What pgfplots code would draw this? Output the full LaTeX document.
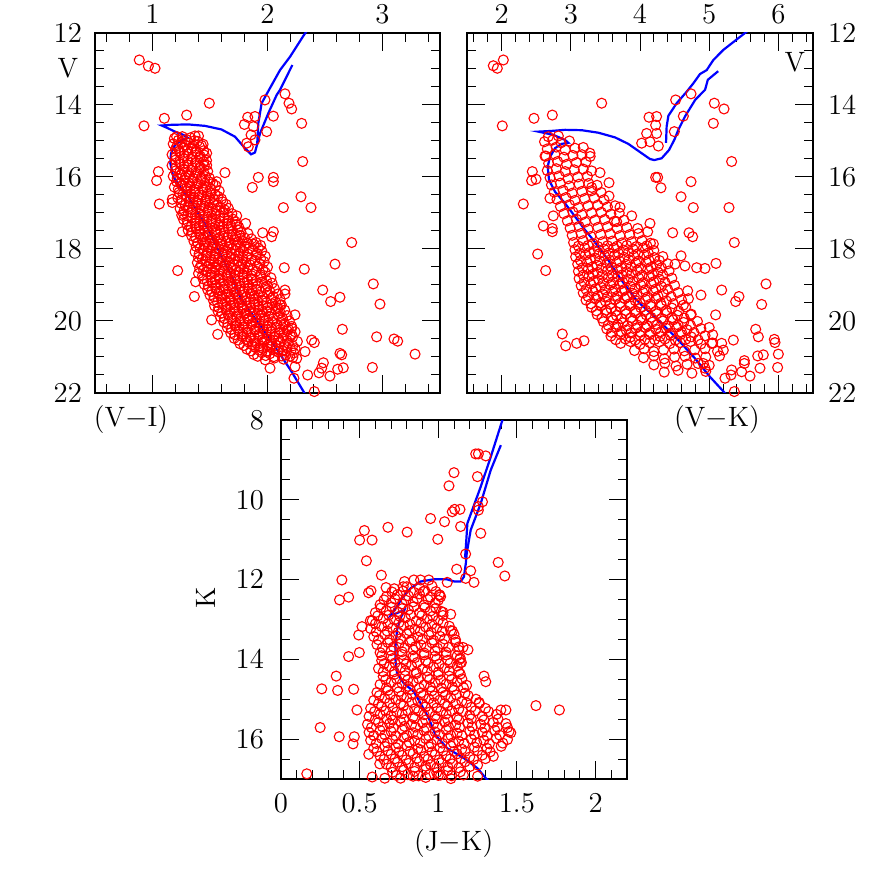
\documentclass[border=0pt]{standalone}
\usepackage{pgfplots}
\pgfplotsset{compat=1.18}
\newcommand{\lf}{\fontsize{14}{16}\selectfont}
\pgfplotsset{
  cmd/.style={
    scale only axis, y dir=reverse, anchor=south west,
    axis line style={line width=0.8pt},
    tick style={black, line width=0.5pt},
    major tick length=9pt, minor tick length=4.5pt,
    tick align=inside,
    every tick label/.append style={font=\lf},
    xtick pos=both, ytick pos=both,
    ytick={12,14,...,22}, minor ytick={12.5,13,...,21.6},
    ymin=12, ymax=22,
  },
  stars/.style={only marks, mark=o, mark size=2.5pt, color=red, mark options={line width=0.55pt}},
  iso/.style={color=blue, line width=1.1pt, no markers},
}

\begin{document}
\begin{tikzpicture}
\path[use as bounding box] (0,0) rectangle (436pt,436pt);

% ---- V vs (V-I)
\begin{axis}[cmd, at={(47.5pt,239.5pt)}, width=172.5pt, height=180pt,
  xmin=0.5, xmax=3.5,
  xtick={1,2,3}, minor xtick={0.6,0.8,...,3.41},
  xticklabel pos=upper, yticklabel pos=left,
  xticklabel style={yshift=1pt}, yticklabel style={xshift=-3pt}]
\addplot[stars] coordinates {
(0.885,12.75)(0.964,12.92)(1.022,12.98)(1.494,13.95)(1.297,14.28)(1.103,14.37)(0.926,14.58)
(1.978,13.86)(2.152,13.69)(2.187,13.95)(2.21,14.11)(2.297,14.51)(2.051,14.31)(1.828,14.34)(1.891,14.32)
(1.799,14.54)(1.877,14.6)(1.993,14.74)(1.857,14.83)(1.891,14.97)(1.819,15.06)(1.833,15.16)(2.306,15.57)
(1.63,15.88)(1.92,16.01)(2.051,16.01)(2.051,16.13)(1.868,16.29)(1.558,16.13)(2.291,16.55)(2.378,16.85)
(2.138,16.85)(1.958,17.55)(2.051,17.52)(2.036,17.66)(2.732,17.82)
(1.051,15.85)(1.036,16.1)(1.059,16.75)(1.172,16.62)(1.172,16.71)(1.21,14.88)(1.37,14.86)(1.471,15.34)
(1.471,15.67)(1.254,17.06)(1.259,17.52)(1.732,17.08)(1.81,17.29)(1.833,17.84)
(1.219,18.6)(1.375,18.91)(1.364,19.32)(1.514,19.97)(1.567,20.37)(2.146,18.52)(2.32,18.56)(2.587,18.42)
(2.48,19.14)(2.549,19.46)(2.63,19.34)(2.92,18.97)(2.978,19.53)(2.152,19.14)(2.152,19.25)(2.651,20.23)
(2.949,20.44)(3.1,20.5)(3.132,20.56)(3.283,20.92)(2.912,21.29)(2.645,20.94)(2.63,20.9)(2.659,21.3)
(2.61,21.34)(2.543,21.53)(2.486,21.16)(2.471,21.31)(2.448,21.44)(2.349,21.5)(2.384,20.53)(2.407,20.6)
(2.407,21.96)(2.23,21.59)(2.239,21.27)(2.254,21.04)(2.326,20.85)(2.239,19.83)(2.21,20.2)(2.219,20.44)
(2.109,19.56)(2.094,19.65)(2.022,21.31)
(1.19,14.93)(1.26,14.88)(1.33,14.91)(1.40,14.86)
(1.18,15.08)(1.25,15.03)(1.32,15.06)(1.39,15.01)(1.44,15.09)
(1.20,15.23)(1.27,15.18)(1.34,15.21)(1.41,15.16)
(1.17,15.38)(1.24,15.33)(1.31,15.36)(1.38,15.31)(1.45,15.39)
(1.20,15.53)(1.27,15.48)(1.34,15.51)(1.41,15.46)(1.47,15.54)
(1.17,15.68)(1.24,15.63)(1.31,15.66)(1.38,15.61)(1.45,15.69)
(1.20,15.83)(1.27,15.78)(1.34,15.81)(1.41,15.76)(1.48,15.84)
(1.18,15.98)(1.25,15.93)(1.32,15.96)(1.39,15.91)(1.46,15.99)
(1.21,16.13)(1.28,16.08)(1.35,16.11)(1.42,16.06)(1.50,16.14)
(1.19,16.28)(1.26,16.23)(1.33,16.26)(1.40,16.21)(1.47,16.29)(1.55,16.24)
(1.23,16.43)(1.30,16.38)(1.37,16.41)(1.44,16.36)(1.51,16.44)(1.58,16.39)
(1.22,16.58)(1.29,16.53)(1.36,16.56)(1.43,16.51)(1.50,16.59)(1.57,16.54)
(1.25,16.73)(1.32,16.68)(1.39,16.71)(1.46,16.66)(1.53,16.74)(1.61,16.69)
(1.24,16.88)(1.31,16.83)(1.38,16.86)(1.45,16.81)(1.52,16.89)(1.59,16.84)(1.66,16.87)
(1.27,17.03)(1.34,16.98)(1.41,17.01)(1.48,16.96)(1.55,17.04)(1.62,16.99)(1.69,17.02)
(1.27,17.18)(1.34,17.13)(1.41,17.16)(1.48,17.11)(1.55,17.19)(1.62,17.14)(1.70,17.17)
(1.30,17.33)(1.37,17.28)(1.44,17.31)(1.51,17.26)(1.58,17.34)(1.65,17.29)(1.73,17.32)
(1.31,17.48)(1.38,17.43)(1.45,17.46)(1.52,17.41)(1.59,17.49)(1.66,17.44)(1.74,17.47)
(1.34,17.63)(1.41,17.58)(1.48,17.61)(1.55,17.56)(1.62,17.64)(1.69,17.59)(1.76,17.62)(1.83,17.57)
(1.36,17.78)(1.43,17.73)(1.50,17.76)(1.57,17.71)(1.64,17.79)(1.71,17.74)(1.78,17.77)(1.86,17.72)
(1.38,17.93)(1.45,17.88)(1.52,17.91)(1.59,17.86)(1.66,17.94)(1.73,17.89)(1.80,17.92)(1.88,17.87)(1.94,17.90)
(1.37,18.08)(1.44,18.03)(1.51,18.06)(1.58,18.01)(1.65,18.09)(1.72,18.04)(1.79,18.07)(1.87,18.02)(1.95,18.05)
(1.40,18.23)(1.47,18.18)(1.54,18.21)(1.61,18.16)(1.68,18.24)(1.75,18.19)(1.82,18.22)(1.90,18.17)(1.98,18.20)
(1.39,18.38)(1.46,18.33)(1.53,18.36)(1.60,18.31)(1.67,18.39)(1.74,18.34)(1.81,18.37)(1.89,18.32)(1.97,18.35)
(1.41,18.53)(1.48,18.48)(1.55,18.51)(1.62,18.46)(1.69,18.54)(1.76,18.49)(1.83,18.52)(1.91,18.47)(2.00,18.50)
(1.40,18.68)(1.47,18.63)(1.54,18.66)(1.61,18.61)(1.68,18.69)(1.75,18.64)(1.82,18.67)(1.90,18.62)(1.98,18.65)
(1.44,18.83)(1.51,18.78)(1.58,18.81)(1.65,18.76)(1.72,18.84)(1.79,18.79)(1.86,18.82)(1.94,18.77)(2.03,18.80)
(1.45,18.98)(1.52,18.93)(1.59,18.96)(1.66,18.91)(1.73,18.99)(1.80,18.94)(1.87,18.97)(1.95,18.92)(2.04,18.95)
(1.48,19.13)(1.55,19.08)(1.62,19.11)(1.69,19.06)(1.76,19.14)(1.83,19.09)(1.90,19.12)(1.98,19.07)(2.06,19.10)
(1.50,19.28)(1.57,19.23)(1.64,19.26)(1.71,19.21)(1.78,19.29)(1.85,19.24)(1.92,19.27)(2.00,19.22)(2.09,19.25)
(1.53,19.43)(1.60,19.38)(1.67,19.41)(1.74,19.36)(1.81,19.44)(1.88,19.39)(1.95,19.42)(2.03,19.37)(2.11,19.40)
(1.54,19.58)(1.61,19.53)(1.68,19.56)(1.75,19.51)(1.82,19.59)(1.89,19.54)(1.96,19.57)(2.04,19.52)(2.12,19.55)
(1.57,19.73)(1.64,19.68)(1.71,19.71)(1.78,19.66)(1.85,19.74)(1.92,19.69)(1.99,19.72)(2.07,19.67)(2.15,19.70)
(1.59,19.88)(1.66,19.83)(1.73,19.86)(1.80,19.81)(1.87,19.89)(1.94,19.84)(2.01,19.87)(2.09,19.82)(2.17,19.85)
(1.62,20.03)(1.69,19.98)(1.76,20.01)(1.83,19.96)(1.90,20.04)(1.97,19.99)(2.04,20.02)(2.12,19.97)(2.19,20.00)
(1.65,20.18)(1.72,20.13)(1.79,20.16)(1.86,20.11)(1.93,20.19)(2.00,20.14)(2.07,20.17)(2.14,20.12)(2.21,20.15)
(1.68,20.33)(1.75,20.28)(1.82,20.31)(1.89,20.26)(1.96,20.34)(2.03,20.29)(2.10,20.32)(2.17,20.27)(2.24,20.30)
(1.71,20.48)(1.78,20.43)(1.85,20.46)(1.92,20.41)(1.99,20.49)(2.06,20.44)(2.13,20.47)(2.20,20.42)
(1.76,20.63)(1.83,20.58)(1.90,20.61)(1.97,20.56)(2.04,20.64)(2.11,20.59)(2.18,20.62)(2.26,20.57)
(1.82,20.78)(1.89,20.73)(1.96,20.76)(2.03,20.71)(2.10,20.79)(2.17,20.74)(2.24,20.77)
(1.88,20.93)(1.95,20.88)(2.02,20.91)(2.09,20.86)(2.16,20.94)(2.23,20.89)
(1.98,21.08)(2.06,21.03)(2.14,21.06)(2.22,21.01)
};
\addplot[stars] coordinates {
(1.225,14.98)(1.295,14.96)(1.365,14.99)
(1.215,15.13)(1.285,15.11)(1.355,15.14)(1.425,15.12)
(1.235,15.28)(1.305,15.26)(1.375,15.29)(1.445,15.27)
(1.205,15.43)(1.275,15.41)(1.345,15.44)(1.415,15.42)
(1.235,15.58)(1.305,15.56)(1.375,15.59)(1.445,15.57)
(1.205,15.73)(1.275,15.71)(1.345,15.74)(1.415,15.72)
(1.235,15.88)(1.305,15.86)(1.375,15.89)(1.445,15.87)
(1.215,16.03)(1.285,16.01)(1.355,16.04)(1.425,16.02)(1.495,16.03)
(1.245,16.18)(1.315,16.16)(1.385,16.19)(1.455,16.17)(1.525,16.18)
(1.225,16.33)(1.295,16.31)(1.365,16.34)(1.435,16.32)(1.505,16.33)
(1.265,16.48)(1.335,16.46)(1.405,16.49)(1.475,16.47)(1.545,16.48)
(1.255,16.63)(1.325,16.61)(1.395,16.64)(1.465,16.62)(1.535,16.63)(1.60,16.61)
(1.285,16.78)(1.355,16.76)(1.425,16.79)(1.495,16.77)(1.565,16.78)(1.64,16.76)
(1.275,16.93)(1.345,16.91)(1.415,16.94)(1.485,16.92)(1.555,16.93)(1.625,16.91)
(1.305,17.08)(1.375,17.06)(1.445,17.09)(1.515,17.07)(1.585,17.08)(1.655,17.06)
(1.305,17.23)(1.375,17.21)(1.445,17.24)(1.515,17.22)(1.585,17.23)(1.655,17.21)(1.72,17.24)
(1.335,17.38)(1.405,17.36)(1.475,17.39)(1.545,17.37)(1.615,17.38)(1.685,17.36)(1.75,17.39)
(1.345,17.53)(1.415,17.51)(1.485,17.54)(1.555,17.52)(1.625,17.53)(1.695,17.51)(1.77,17.54)
(1.375,17.68)(1.445,17.66)(1.515,17.69)(1.585,17.67)(1.655,17.68)(1.725,17.66)(1.80,17.69)
(1.395,17.83)(1.465,17.81)(1.535,17.84)(1.605,17.82)(1.675,17.83)(1.745,17.81)(1.82,17.84)(1.90,17.82)
(1.415,17.98)(1.485,17.96)(1.555,17.99)(1.625,17.97)(1.695,17.98)(1.765,17.96)(1.84,17.99)(1.92,17.97)
(1.405,18.13)(1.475,18.11)(1.545,18.14)(1.615,18.12)(1.685,18.13)(1.755,18.11)(1.83,18.14)(1.91,18.12)
(1.435,18.28)(1.505,18.26)(1.575,18.29)(1.645,18.27)(1.715,18.28)(1.785,18.26)(1.86,18.29)(1.94,18.27)
(1.425,18.43)(1.495,18.41)(1.565,18.44)(1.635,18.42)(1.705,18.43)(1.775,18.41)(1.85,18.44)(1.93,18.42)
(1.445,18.58)(1.515,18.56)(1.585,18.59)(1.655,18.57)(1.725,18.58)(1.795,18.56)(1.87,18.59)(1.96,18.57)
(1.435,18.73)(1.505,18.71)(1.575,18.74)(1.645,18.72)(1.715,18.73)(1.785,18.71)(1.86,18.74)(1.94,18.72)
(1.475,18.88)(1.545,18.86)(1.615,18.89)(1.685,18.87)(1.755,18.88)(1.825,18.86)(1.90,18.89)(1.99,18.87)
(1.485,19.03)(1.555,19.01)(1.625,19.04)(1.695,19.02)(1.765,19.03)(1.835,19.01)(1.91,19.04)(2.00,19.02)
(1.515,19.18)(1.585,19.16)(1.655,19.19)(1.725,19.17)(1.795,19.18)(1.865,19.16)(1.94,19.19)(2.02,19.17)
(1.535,19.33)(1.605,19.31)(1.675,19.34)(1.745,19.32)(1.815,19.33)(1.885,19.31)(1.96,19.34)(2.05,19.32)
(1.565,19.48)(1.635,19.46)(1.705,19.49)(1.775,19.47)(1.845,19.48)(1.915,19.46)(1.99,19.49)(2.07,19.47)
(1.575,19.63)(1.645,19.61)(1.715,19.64)(1.785,19.62)(1.855,19.63)(1.925,19.61)(2.00,19.64)(2.08,19.62)
(1.605,19.78)(1.675,19.76)(1.745,19.79)(1.815,19.77)(1.885,19.78)(1.955,19.76)(2.03,19.79)(2.11,19.77)
(1.625,19.93)(1.695,19.91)(1.765,19.94)(1.835,19.92)(1.905,19.93)(1.975,19.91)(2.05,19.94)(2.13,19.92)
(1.655,20.08)(1.725,20.06)(1.795,20.09)(1.865,20.07)(1.935,20.08)(2.005,20.06)(2.08,20.09)(2.15,20.07)
(1.685,20.23)(1.755,20.21)(1.825,20.24)(1.895,20.22)(1.965,20.23)(2.035,20.21)(2.11,20.24)(2.18,20.22)
(1.715,20.38)(1.785,20.36)(1.855,20.39)(1.925,20.37)(1.995,20.38)(2.065,20.36)(2.14,20.39)(2.21,20.37)
(1.745,20.53)(1.815,20.51)(1.885,20.54)(1.955,20.52)(2.025,20.53)(2.095,20.51)(2.17,20.54)
(1.795,20.68)(1.865,20.66)(1.935,20.69)(2.005,20.67)(2.075,20.68)(2.145,20.66)(2.22,20.69)
(1.855,20.83)(1.925,20.81)(1.995,20.84)(2.065,20.82)(2.135,20.83)(2.205,20.81)
(1.915,20.98)(1.985,20.96)(2.055,20.99)(2.125,20.97)(2.195,20.98)
};
\addplot[iso] coordinates {
(2.34,22.1)(2.21,21.41)(2.123,20.99)(2.007,20.44)(1.862,19.79)(1.761,19.32)(1.703,18.86)(1.601,18.21)
(1.572,18.03)(1.486,17.47)(1.399,17.01)(1.312,16.55)(1.239,16.27)(1.181,15.99)(1.155,15.62)(1.161,15.34)
(1.196,15.11)(1.259,14.97)(1.306,14.91)(1.268,14.83)(1.196,14.74)(1.123,14.63)(1.08,14.57)(1.167,14.55)
(1.312,14.54)(1.457,14.58)(1.60,14.68)(1.717,14.88)(1.804,15.2)(1.857,15.37)(1.891,15.32)(1.935,14.79)
(2.007,14.23)(2.08,13.72)(2.109,13.58)(2.216,12.89)
};
\addplot[iso] coordinates {
(1.91,15.1)(1.914,14.88)(1.92,14.51)(1.949,13.95)(2.02,13.54)(2.109,13.03)(2.196,12.66)(2.32,12.04)(2.34,11.95)
};
\end{axis}

% ---- V vs (V-K)
\begin{axis}[cmd, at={(233.5pt,239.5pt)}, width=173pt, height=180pt,
  xmin=1.5, xmax=6.5,
  xtick={2,3,4,5,6}, minor xtick={1.6,1.8,...,6.41},
  xticklabel pos=upper, yticklabel pos=right,
  xticklabel style={yshift=1pt}, yticklabel style={xshift=4pt}]
\addplot[stars] coordinates {
(1.88,12.91)(1.938,12.98)(2.025,12.75)(3.446,13.95)(4.515,13.86)(4.737,13.69)(5.074,13.95)(5.214,14.11)
(2.468,14.37)(2.733,14.28)(2.01,14.58)(4.13,14.34)(4.24,14.32)(4.626,14.31)(5.06,14.51)(4.226,14.56)
(4.096,14.79)(4.24,14.79)(4.265,15.14)(4.024,15.06)(4.144,15.02)(4.496,14.74)(5.324,15.57)(4.226,16.01)
(4.255,16.01)(4.303,16.3)(4.737,16.13)(4.593,16.55)(4.77,16.85)(5.286,16.85)(4.472,17.55)(4.708,17.55)
(4.761,17.66)(5.363,17.82)(2.627,15.42)(2.444,15.85)(2.434,16.1)(2.497,16.06)(2.314,16.75)(2.699,16.59)
(2.603,17.36)(2.733,17.43)(2.733,17.52)(2.747,17.08)(2.675,14.88)(2.82,14.86)(3.277,15.34)(3.422,15.88)
(3.552,16.16)(3.301,16.29)(3.552,16.53)(3.711,16.84)(3.88,17.08)(3.663,17.24)(4.144,17.29)(4.111,17.52)
(4.193,17.86)(3.966,17.43)
(2.521,18.14)(2.637,18.6)(2.877,20.36)(2.926,20.69)(3.085,20.62)(3.191,20.55)(5.098,18.4)(4.939,18.54)
(4.819,18.52)(4.65,18.47)(4.506,18.42)(4.593,18.19)(4.689,19.16)(4.881,19.28)(5.18,19.14)(5.43,19.32)
(5.382,19.46)(5.758,19.54)(5.821,18.97)(5.093,19.83)(4.732,19.83)(4.626,19.56)(5.672,20.23)(5.71,20.44)
(5.941,20.51)(5.951,20.6)(5.999,20.92)(5.989,21.29)(5.782,20.94)(5.701,20.97)(5.508,21.1)(5.508,21.18)
(5.734,21.31)(5.59,21.53)(5.469,21.41)(5.324,21.36)(5.315,21.5)(5.363,21.96)(5.228,21.59)(5.349,20.53)
(5.18,20.62)(5.204,20.81)(5.035,20.62)(4.939,21.31)(4.915,21.18)
(2.62,15.02)(2.74,14.97)(2.86,15.05)(2.98,15.00)
(2.66,15.22)(2.79,15.17)(2.92,15.25)(3.06,15.20)(3.18,15.18)
(2.64,15.42)(2.77,15.37)(2.90,15.45)(3.03,15.40)(3.16,15.38)(3.28,15.43)
(2.68,15.62)(2.81,15.57)(2.94,15.65)(3.08,15.60)(3.22,15.58)
(2.66,15.82)(2.79,15.77)(2.92,15.85)(3.05,15.80)(3.18,15.78)(3.30,15.83)
(2.70,16.02)(2.83,15.97)(2.96,16.05)(3.10,16.00)(3.24,15.98)
(2.72,16.22)(2.85,16.17)(2.98,16.25)(3.12,16.20)(3.26,16.18)(3.38,16.23)
(2.76,16.42)(2.89,16.37)(3.02,16.45)(3.16,16.40)(3.30,16.38)(3.44,16.43)
(2.80,16.62)(2.93,16.57)(3.06,16.65)(3.20,16.60)(3.34,16.58)(3.48,16.63)
(2.85,16.82)(2.98,16.77)(3.11,16.85)(3.25,16.80)(3.39,16.78)(3.53,16.83)(3.64,16.80)
(2.90,17.02)(3.03,16.97)(3.16,17.05)(3.30,17.00)(3.44,16.98)(3.58,17.03)(3.70,17.00)
(2.95,17.22)(3.08,17.17)(3.21,17.25)(3.35,17.20)(3.49,17.18)(3.63,17.23)(3.77,17.20)
(2.99,17.42)(3.12,17.37)(3.25,17.45)(3.39,17.40)(3.53,17.38)(3.67,17.43)(3.81,17.40)
(3.02,17.62)(3.15,17.57)(3.29,17.65)(3.43,17.60)(3.57,17.58)(3.71,17.63)(3.85,17.60)(3.98,17.57)
(3.04,17.82)(3.18,17.77)(3.32,17.85)(3.46,17.80)(3.60,17.78)(3.74,17.83)(3.88,17.80)(4.03,17.77)(4.15,17.84)
(3.06,18.02)(3.20,17.97)(3.34,18.05)(3.48,18.00)(3.62,17.98)(3.76,18.03)(3.90,18.00)(4.05,17.97)(4.20,18.04)
(3.07,18.22)(3.21,18.17)(3.35,18.25)(3.49,18.20)(3.63,18.18)(3.77,18.23)(3.91,18.20)(4.06,18.17)(4.21,18.24)(4.33,18.21)
(3.10,18.42)(3.24,18.37)(3.38,18.45)(3.52,18.40)(3.66,18.38)(3.80,18.43)(3.94,18.40)(4.09,18.37)(4.24,18.44)(4.40,18.41)
(3.11,18.62)(3.25,18.57)(3.39,18.65)(3.53,18.60)(3.67,18.58)(3.81,18.63)(3.96,18.60)(4.11,18.57)(4.26,18.64)(4.42,18.61)
(3.12,18.82)(3.26,18.77)(3.40,18.85)(3.54,18.80)(3.68,18.78)(3.83,18.83)(3.98,18.80)(4.13,18.77)(4.28,18.84)(4.46,18.81)
(3.15,19.02)(3.29,18.97)(3.43,19.05)(3.57,19.00)(3.71,18.98)(3.86,19.03)(4.01,19.00)(4.16,18.97)(4.31,19.04)(4.50,19.01)
(3.18,19.22)(3.32,19.17)(3.46,19.25)(3.60,19.20)(3.74,19.18)(3.89,19.23)(4.04,19.20)(4.19,19.17)(4.34,19.24)(4.55,19.21)
(3.22,19.42)(3.36,19.37)(3.50,19.45)(3.64,19.40)(3.78,19.38)(3.93,19.43)(4.08,19.40)(4.23,19.37)(4.38,19.44)(4.60,19.41)(4.70,19.38)
(3.30,19.62)(3.44,19.57)(3.58,19.65)(3.72,19.60)(3.86,19.58)(4.01,19.63)(4.16,19.60)(4.31,19.57)(4.46,19.64)(4.66,19.61)
(3.38,19.82)(3.52,19.77)(3.66,19.85)(3.80,19.80)(3.94,19.78)(4.09,19.83)(4.24,19.80)(4.39,19.77)(4.54,19.84)(4.74,19.81)
(3.47,20.02)(3.61,19.97)(3.75,20.05)(3.89,20.00)(4.03,19.98)(4.18,20.03)(4.33,20.00)(4.48,19.97)(4.63,20.04)(4.83,20.01)
(3.52,20.22)(3.66,20.17)(3.80,20.25)(3.94,20.20)(4.08,20.18)(4.23,20.23)(4.38,20.20)(4.53,20.17)(4.68,20.24)(4.88,20.21)(5.00,20.18)
(3.58,20.42)(3.72,20.37)(3.86,20.45)(4.00,20.40)(4.14,20.38)(4.29,20.43)(4.44,20.40)(4.59,20.37)(4.74,20.44)(4.94,20.41)(5.05,20.38)
(3.72,20.62)(3.86,20.57)(4.00,20.65)(4.14,20.60)(4.28,20.58)(4.43,20.63)(4.58,20.60)(4.73,20.57)(4.88,20.64)(5.05,20.61)
(3.92,20.82)(4.06,20.77)(4.20,20.85)(4.34,20.80)(4.49,20.78)(4.64,20.83)(4.79,20.80)(4.94,20.77)(5.12,20.84)
(4.05,21.02)(4.20,20.97)(4.35,21.05)(4.50,21.00)(4.65,20.98)(4.80,21.03)(4.95,21.00)(5.15,20.97)
(4.20,21.22)(4.36,21.17)(4.52,21.25)(4.68,21.20)(4.84,21.18)(5.00,21.23)
(4.35,21.42)(4.55,21.37)(4.75,21.45)(4.95,21.40)
};
\addplot[stars] coordinates {
(3.11,17.92)(3.25,17.90)(3.39,17.93)(3.53,17.91)(3.67,17.92)(3.81,17.90)(3.95,17.93)(4.10,17.91)
(3.13,18.12)(3.27,18.10)(3.41,18.13)(3.55,18.11)(3.69,18.12)(3.83,18.10)(3.97,18.13)(4.12,18.11)
(3.14,18.32)(3.28,18.30)(3.42,18.33)(3.56,18.31)(3.70,18.32)(3.84,18.30)(3.98,18.33)(4.13,18.31)(4.28,18.32)
(3.17,18.52)(3.31,18.50)(3.45,18.53)(3.59,18.51)(3.73,18.52)(3.87,18.50)(4.01,18.53)(4.16,18.51)(4.31,18.52)
(3.18,18.72)(3.32,18.70)(3.46,18.73)(3.60,18.71)(3.74,18.72)(3.88,18.70)(4.03,18.73)(4.18,18.71)(4.33,18.72)
(3.19,18.92)(3.33,18.90)(3.47,18.93)(3.61,18.91)(3.75,18.92)(3.90,18.90)(4.05,18.93)(4.20,18.91)(4.36,18.92)
(3.22,19.12)(3.36,19.10)(3.50,19.13)(3.64,19.11)(3.78,19.12)(3.93,19.10)(4.08,19.13)(4.23,19.11)(4.40,19.12)
(3.25,19.32)(3.39,19.30)(3.53,19.33)(3.67,19.31)(3.81,19.32)(3.96,19.30)(4.11,19.33)(4.26,19.31)(4.45,19.32)
(3.29,19.52)(3.43,19.50)(3.57,19.53)(3.71,19.51)(3.85,19.52)(4.00,19.50)(4.15,19.53)(4.30,19.51)(4.48,19.52)
(3.37,19.72)(3.51,19.70)(3.65,19.73)(3.79,19.71)(3.93,19.72)(4.08,19.70)(4.23,19.73)(4.38,19.71)(4.56,19.72)
(3.45,19.92)(3.59,19.90)(3.73,19.93)(3.87,19.91)(4.01,19.92)(4.16,19.90)(4.31,19.93)(4.46,19.91)(4.64,19.92)
(3.54,20.12)(3.68,20.10)(3.82,20.13)(3.96,20.11)(4.10,20.12)(4.25,20.10)(4.40,20.13)(4.55,20.11)(4.73,20.12)
(3.59,20.32)(3.73,20.30)(3.87,20.33)(4.01,20.31)(4.15,20.32)(4.30,20.30)(4.45,20.33)(4.60,20.31)(4.78,20.32)
(3.65,20.52)(3.79,20.50)(3.93,20.53)(4.07,20.51)(4.21,20.52)(4.36,20.50)(4.51,20.53)(4.66,20.51)(4.84,20.52)
};
\addplot[iso] coordinates {
(5.25,22.05)(5.011,21.55)(4.795,21.04)(4.554,20.53)(4.265,19.97)(4.024,19.56)(3.928,19.37)(3.711,18.81)
(3.542,18.31)(3.325,17.75)(3.205,17.47)(3.061,17.1)(2.916,16.73)(2.772,16.41)(2.685,16.08)(2.666,15.71)
(2.7,15.44)(2.772,15.2)(2.868,15.08)(2.964,15.05)(2.916,14.97)(2.747,14.83)(2.651,14.79)(2.531,14.74)
(2.724,14.72)(2.916,14.69)(3.157,14.70)(3.398,14.77)(3.639,14.9)(3.831,15.08)(4.024,15.34)(4.144,15.5)
(4.207,15.53)(4.313,15.48)(4.42,15.25)(4.50,14.95)(4.554,14.69)(4.65,14.32)(4.80,13.85)(4.94,13.58)
(4.98,13.3)(5.13,13.06)
};
\addplot[iso] coordinates {
(4.376,15.05)(4.385,14.6)(4.41,14.3)(4.53,13.95)(4.675,13.63)(4.77,13.4)(4.867,13.14)(4.964,13.03)
(5.06,12.75)(5.204,12.47)(5.397,12.18)(5.55,11.95)
};
\end{axis}

% ---- K vs (J-K)
\begin{axis}[cmd, at={(140.5pt,46.5pt)}, width=173pt, height=179.5pt,
  xmin=0, xmax=2.2, ymin=8, ymax=17,
  xtick={0,0.5,1,1.5,2}, minor xtick={0.1,0.2,...,2.11},
  ytick={8,10,12,14,16}, minor ytick={8.5,9,...,16.6},
  xticklabel pos=lower, yticklabel pos=left,
  xticklabel style={yshift=-4pt}, yticklabel style={xshift=-5pt}]
\addplot[stars] coordinates {
(1.238,8.85)(1.255,8.85)(1.302,8.9)(1.1,9.32)(1.249,9.42)(1.068,9.65)(1.138,10.24)(1.104,10.24)
(1.089,10.3)(1.281,10.05)(1.255,10.17)(1.255,10.26)(0.951,10.47)(1.04,10.55)(1.142,10.67)(1.27,10.84)
(0.997,10.99)(0.68,10.69)(0.802,10.81)(0.53,10.77)(0.5,11.01)(0.579,11.01)(0.543,11.53)(1.174,11.36)
(1.117,11.74)(1.206,11.78)(1.381,11.57)(1.423,11.91)(1.174,11.97)(1.227,12.07)(1.057,12.07)(0.387,12.01)
(0.638,11.89)(0.668,12.2)(0.557,12.33)(0.572,12.28)(0.43,12.44)(0.372,12.51)(0.785,12.05)(0.777,12.18)
(0.845,12.01)(0.887,12.01)(0.94,12.01)(0.906,12.3)(1.006,12.38)
(1.015,12.43)(1.019,12.8)(1.079,12.87)(1.079,13.28)(0.515,13.18)(0.568,13.03)(0.494,13.39)(0.498,13.83)
(0.43,13.93)(1.157,13.7)(1.189,13.76)(1.136,14.0)(1.147,14.08)
(0.351,14.42)(0.259,14.74)(0.36,14.78)(0.462,14.75)(0.483,15.27)(0.249,15.71)(0.37,15.94)(0.466,15.94)
(0.458,16.12)(0.558,16.38)(0.628,16.62)(0.164,16.87)(1.621,15.16)(1.77,15.27)(1.291,14.42)(1.302,14.56)
(1.26,15.08)(1.398,15.27)(1.43,15.27)(1.461,15.84)(0.58,16.95)(0.66,16.98)(1.25,16.93)
(0.72,12.23)(0.80,12.18)(0.88,12.21)(0.96,12.16)
(0.67,12.43)(0.74,12.38)(0.81,12.41)(0.88,12.36)(0.95,12.44)(1.01,12.39)
(0.63,12.63)(0.70,12.58)(0.77,12.61)(0.84,12.56)(0.91,12.64)(0.98,12.59)
(0.60,12.83)(0.67,12.78)(0.74,12.81)(0.81,12.76)(0.88,12.84)(0.95,12.79)(1.03,12.82)
(0.58,13.03)(0.65,12.98)(0.72,13.01)(0.79,12.96)(0.86,13.04)(0.93,12.99)(1.00,13.02)
(0.57,13.23)(0.64,13.18)(0.71,13.21)(0.78,13.16)(0.85,13.24)(0.92,13.19)(0.99,13.22)(1.07,13.17)
(0.59,13.43)(0.66,13.38)(0.73,13.41)(0.80,13.36)(0.87,13.44)(0.94,13.39)(1.01,13.42)(1.10,13.37)
(0.61,13.63)(0.68,13.58)(0.75,13.61)(0.82,13.56)(0.89,13.64)(0.96,13.59)(1.03,13.62)(1.11,13.57)
(0.63,13.83)(0.70,13.78)(0.77,13.81)(0.84,13.76)(0.91,13.84)(0.98,13.79)(1.05,13.82)(1.13,13.77)
(0.64,14.03)(0.71,13.98)(0.78,14.01)(0.85,13.96)(0.92,14.04)(0.99,13.99)(1.06,14.02)(1.14,13.97)
(0.62,14.23)(0.69,14.18)(0.76,14.21)(0.83,14.16)(0.90,14.24)(0.97,14.19)(1.04,14.22)(1.12,14.17)
(0.65,14.43)(0.72,14.38)(0.79,14.41)(0.86,14.36)(0.93,14.44)(1.00,14.39)(1.07,14.42)(1.14,14.37)
(0.63,14.63)(0.70,14.58)(0.77,14.61)(0.84,14.56)(0.91,14.64)(0.98,14.59)(1.05,14.62)(1.12,14.57)(1.18,14.65)
(0.61,14.83)(0.68,14.78)(0.75,14.81)(0.82,14.76)(0.89,14.84)(0.96,14.79)(1.03,14.82)(1.10,14.77)(1.17,14.85)
(0.59,15.03)(0.66,14.98)(0.73,15.01)(0.80,14.96)(0.87,15.04)(0.94,14.99)(1.01,15.02)(1.08,14.97)(1.15,15.05)(1.24,15.00)
(0.57,15.23)(0.64,15.18)(0.71,15.21)(0.78,15.16)(0.85,15.24)(0.92,15.19)(0.99,15.22)(1.06,15.17)(1.13,15.25)(1.21,15.20)(1.30,15.23)
(0.56,15.43)(0.63,15.38)(0.70,15.41)(0.77,15.36)(0.84,15.44)(0.91,15.39)(0.98,15.42)(1.05,15.37)(1.12,15.45)(1.20,15.40)(1.28,15.43)(1.37,15.38)
(0.55,15.63)(0.62,15.58)(0.69,15.61)(0.76,15.56)(0.83,15.64)(0.90,15.59)(0.97,15.62)(1.04,15.57)(1.11,15.65)(1.19,15.60)(1.27,15.63)(1.35,15.58)(1.43,15.61)
(0.56,15.83)(0.63,15.78)(0.70,15.81)(0.77,15.76)(0.84,15.84)(0.91,15.79)(0.98,15.82)(1.05,15.77)(1.12,15.85)(1.20,15.80)(1.28,15.83)(1.36,15.78)(1.45,15.81)
(0.57,16.03)(0.64,15.98)(0.71,16.01)(0.78,15.96)(0.85,16.04)(0.92,15.99)(0.99,16.02)(1.06,15.97)(1.13,16.05)(1.21,16.00)(1.29,16.03)(1.37,15.98)(1.44,16.01)
(0.59,16.23)(0.66,16.18)(0.73,16.21)(0.80,16.16)(0.87,16.24)(0.94,16.19)(1.01,16.22)(1.08,16.17)(1.15,16.25)(1.23,16.20)(1.31,16.23)(1.40,16.18)
(0.63,16.43)(0.70,16.38)(0.77,16.41)(0.84,16.36)(0.91,16.44)(0.98,16.39)(1.05,16.42)(1.12,16.37)(1.20,16.45)(1.28,16.40)(1.35,16.43)
(0.67,16.63)(0.74,16.58)(0.81,16.61)(0.88,16.56)(0.95,16.64)(1.02,16.59)(1.09,16.62)(1.17,16.57)(1.25,16.65)
(0.71,16.83)(0.78,16.78)(0.85,16.81)(0.92,16.76)(0.99,16.84)(1.06,16.79)(1.14,16.82)
(0.76,16.98)(0.84,16.93)(0.92,16.96)(1.00,16.91)(1.08,16.99)
(0.68,13.11)(0.75,13.08)(0.82,13.12)(0.89,13.09)
(0.69,13.51)(0.76,13.48)(0.83,13.52)(0.90,13.49)
(0.70,13.91)(0.77,13.88)(0.84,13.92)(0.91,13.89)
(0.72,14.31)(0.79,14.28)(0.86,14.32)(0.93,14.29)
(0.74,14.71)(0.81,14.68)(0.88,14.72)(0.95,14.69)
(0.76,15.11)(0.83,15.08)(0.90,15.12)(0.97,15.09)(1.04,15.11)
(0.78,15.51)(0.85,15.48)(0.92,15.52)(0.99,15.49)(1.06,15.51)
(0.80,15.91)(0.87,15.88)(0.94,15.92)(1.01,15.89)(1.08,15.91)
(0.82,16.31)(0.89,16.28)(0.96,16.32)(1.03,16.29)(1.10,16.31)
(0.85,16.71)(0.92,16.68)(0.99,16.72)(1.06,16.69)
};
\addplot[stars] coordinates {
(0.705,12.31)(0.775,12.29)(0.845,12.32)(0.915,12.28)(0.985,12.30)
(0.655,12.51)(0.725,12.49)(0.795,12.52)(0.865,12.48)(0.935,12.50)(1.00,12.52)
(0.635,12.71)(0.705,12.69)(0.775,12.72)(0.845,12.68)(0.915,12.70)(0.985,12.72)
(0.615,12.91)(0.685,12.89)(0.755,12.92)(0.825,12.88)(0.895,12.90)(0.965,12.92)(1.03,12.90)
(0.60,13.11)(0.96,13.12)(1.03,13.09)
(0.605,13.31)(0.675,13.29)(0.745,13.32)(0.815,13.28)(0.885,13.30)(0.955,13.32)(1.025,13.30)(1.09,13.29)
(0.62,13.51)(0.97,13.52)(1.04,13.49)(1.11,13.51)
(0.645,13.71)(0.715,13.69)(0.785,13.72)(0.855,13.68)(0.925,13.70)(0.995,13.72)(1.065,13.70)(1.13,13.69)
(0.64,13.91)(0.98,13.92)(1.05,13.89)(1.12,13.91)
(0.655,14.11)(0.725,14.09)(0.795,14.12)(0.865,14.08)(0.935,14.10)(1.005,14.12)(1.075,14.10)(1.14,14.09)
(0.65,14.31)(1.00,14.32)(1.07,14.29)(1.13,14.31)
(0.665,14.51)(0.735,14.49)(0.805,14.52)(0.875,14.48)(0.945,14.50)(1.015,14.52)(1.085,14.50)(1.15,14.49)
(0.67,14.71)(1.02,14.72)(1.09,14.69)(1.16,14.71)
(0.625,14.91)(0.695,14.89)(0.765,14.92)(0.835,14.88)(0.905,14.90)(0.975,14.92)(1.045,14.90)(1.115,14.89)(1.19,14.91)
(0.62,15.11)(0.69,15.09)(1.11,15.12)(1.18,15.09)(1.26,15.11)
(0.595,15.31)(0.665,15.29)(0.735,15.32)(0.805,15.28)(0.875,15.30)(0.945,15.32)(1.015,15.30)(1.085,15.29)(1.155,15.31)(1.235,15.29)(1.32,15.31)
(0.60,15.51)(0.67,15.49)(0.71,15.52)(1.13,15.51)(1.21,15.49)(1.29,15.52)(1.38,15.50)
(0.575,15.71)(0.645,15.69)(0.715,15.72)(0.785,15.68)(0.855,15.70)(0.925,15.72)(0.995,15.70)(1.065,15.69)(1.135,15.71)(1.215,15.69)(1.295,15.72)(1.375,15.70)(1.44,15.71)
(0.59,15.91)(0.66,15.89)(0.73,15.92)(1.15,15.91)(1.23,15.89)(1.31,15.92)(1.39,15.90)
(0.605,16.11)(0.675,16.09)(0.745,16.12)(0.815,16.08)(0.885,16.10)(0.955,16.12)(1.025,16.10)(1.095,16.09)(1.165,16.11)(1.245,16.09)(1.325,16.12)(1.41,16.10)
(0.61,16.31)(0.68,16.29)(0.75,16.32)(1.17,16.31)(1.25,16.29)(1.33,16.32)
(0.655,16.51)(0.725,16.49)(0.795,16.52)(0.865,16.48)(0.935,16.50)(1.005,16.52)(1.075,16.50)(1.145,16.49)(1.225,16.51)(1.30,16.49)
(0.70,16.71)(0.77,16.69)(1.13,16.72)(1.20,16.69)
(0.735,16.91)(0.805,16.89)(0.875,16.92)(0.945,16.88)(1.015,16.90)(1.085,16.92)(1.16,16.90)
};
\addplot[iso] coordinates {
(1.32,17.05)(1.302,16.98)(1.249,16.73)(1.164,16.48)(1.057,16.23)(0.983,15.9)(0.94,15.48)(0.887,15.1)
(0.844,14.81)(0.781,14.6)(0.738,14.35)(0.728,14.02)(0.728,13.68)(0.738,13.26)(0.76,12.97)(0.785,12.76)
(0.696,12.91)(0.728,12.72)(0.77,12.47)(0.823,12.22)(0.887,12.05)(0.976,11.99)(1.051,11.99)(1.104,12.05)
(1.142,12.05)(1.163,11.93)(1.175,11.6)(1.181,11.34)(1.206,10.76)(1.27,10.09)(1.334,9.25)(1.398,8.63)
};
\addplot[iso] coordinates {
(1.17,11.45)(1.174,11.26)(1.18,10.9)(1.185,10.59)(1.27,9.67)(1.334,8.92)(1.408,8.0)(1.42,7.9)
};
\end{axis}

\node[font=\lf] at (34pt,402pt) {V};
\node[font=\lf] at (65.5pt,226pt) {(V$-$I)};
\node[font=\lf] at (397.5pt,405pt) {V};
\node[font=\lf] at (358.5pt,226pt) {(V$-$K)};
\node[font=\lf] at (226.8pt,14pt) {(J$-$K)};
\node[font=\lf, rotate=90] at (103pt,137pt) {K};
\end{tikzpicture}
\end{document}
